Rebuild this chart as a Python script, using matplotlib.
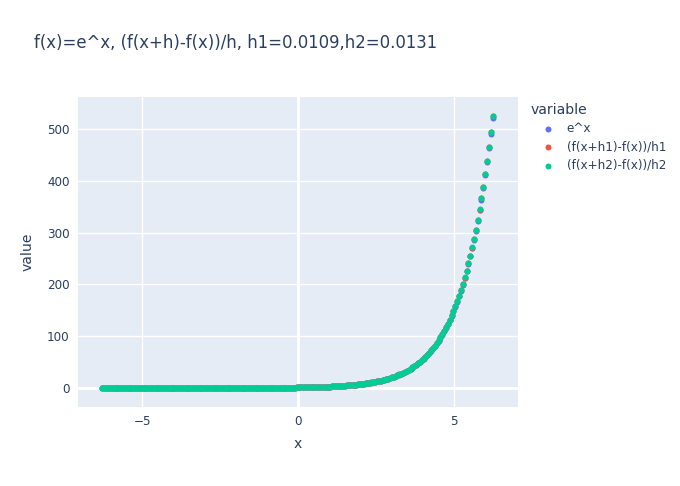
import numpy as np
import matplotlib
matplotlib.use("Agg")
import matplotlib.pyplot as plt
from matplotlib.ticker import FixedLocator, FuncFormatter

x_start = -6.2832          # first point (≈ -2π)
x_step = 0.06              # spacing between points
n_points = 210             # number of points
h1 = 0.0109
h2 = 0.0131
series_names = ["e^x", "(f(x+h1)-f(x))/h1", "(f(x+h2)-f(x))/h2"]
series_colors = ["#636EFA", "#EF553B", "#00CC96"]
x_ticks = [-5, 0, 5]
y_ticks = [0, 100, 200, 300, 400, 500]

x = x_start + x_step * np.arange(n_points)
f = np.exp
values = [f(x), (f(x + h1) - f(x)) / h1, (f(x + h2) - f(x)) / h2]

# ---- figure ----
W, H = 680, 486
fig = plt.figure(figsize=(W / 100, H / 100), dpi=100)
L, R, T, B = 78, 518, 97, 407
ax = fig.add_axes([L / W, 1 - B / H, (R - L) / W, (B - T) / H])
ax.set_facecolor("#E5ECF6")
for s in ax.spines.values():
    s.set_visible(False)

font = "DejaVu Sans"
txt = "#2a3f5f"
px = 72 / 100  # px -> pt

for name, col, v in zip(series_names, series_colors, values):
    ax.scatter(x, v, s=(6 * px) ** 2, color=col, linewidths=0, label=name, zorder=3)

ax.set_xlim(-7.07, 7.07)
ax.set_ylim(-36.7, 561.8)
ax.xaxis.set_major_locator(FixedLocator(x_ticks))
ax.yaxis.set_major_locator(FixedLocator(y_ticks))
fmt = FuncFormatter(lambda v, p: ("\u2212" if v < 0 else "") + f"{abs(v):g}")
ax.xaxis.set_major_formatter(fmt)
ax.yaxis.set_major_formatter(fmt)
ax.grid(True, color="white", linewidth=1, zorder=0)
ax.set_axisbelow(True)
ax.axvline(0, color="white", linewidth=2, zorder=1)
ax.axhline(0, color="white", linewidth=2, zorder=1)
ax.tick_params(length=0, labelsize=12 * px, labelcolor=txt, pad=6)
for lab in ax.get_xticklabels() + ax.get_yticklabels():
    lab.set_fontfamily(font)

ax.set_xlabel("x", fontsize=14 * px, color=txt, fontfamily=font, labelpad=6.5)
ax.set_ylabel("value", fontsize=14 * px, color=txt, fontfamily=font, labelpad=9)

fig.text(34 / W, 1 - 43 / H, "f(x)=e^x, (f(x+h)-f(x))/h, h1=0.0109,h2=0.0131",
         fontsize=16.5 * px, color=txt, fontfamily=font, ha="left", va="center")

fs = 12 * px
leg = ax.legend(title="variable", loc="upper left", bbox_to_anchor=(526 / W, 1 - 98 / H),
                bbox_transform=fig.transFigure, frameon=False,
                prop={"family": font, "size": fs}, markerscale=1.0,
                handlelength=(34 * px) / fs, handletextpad=(2 * px) / fs,
                labelspacing=0.45, borderaxespad=0, alignment="left")
leg.get_title().set_fontsize(14 * px)
leg.get_title().set_fontfamily(font)
leg.get_title().set_color(txt)
for t in leg.get_texts():
    t.set_color(txt)

fig.savefig("out.png", dpi=100, facecolor="white")
